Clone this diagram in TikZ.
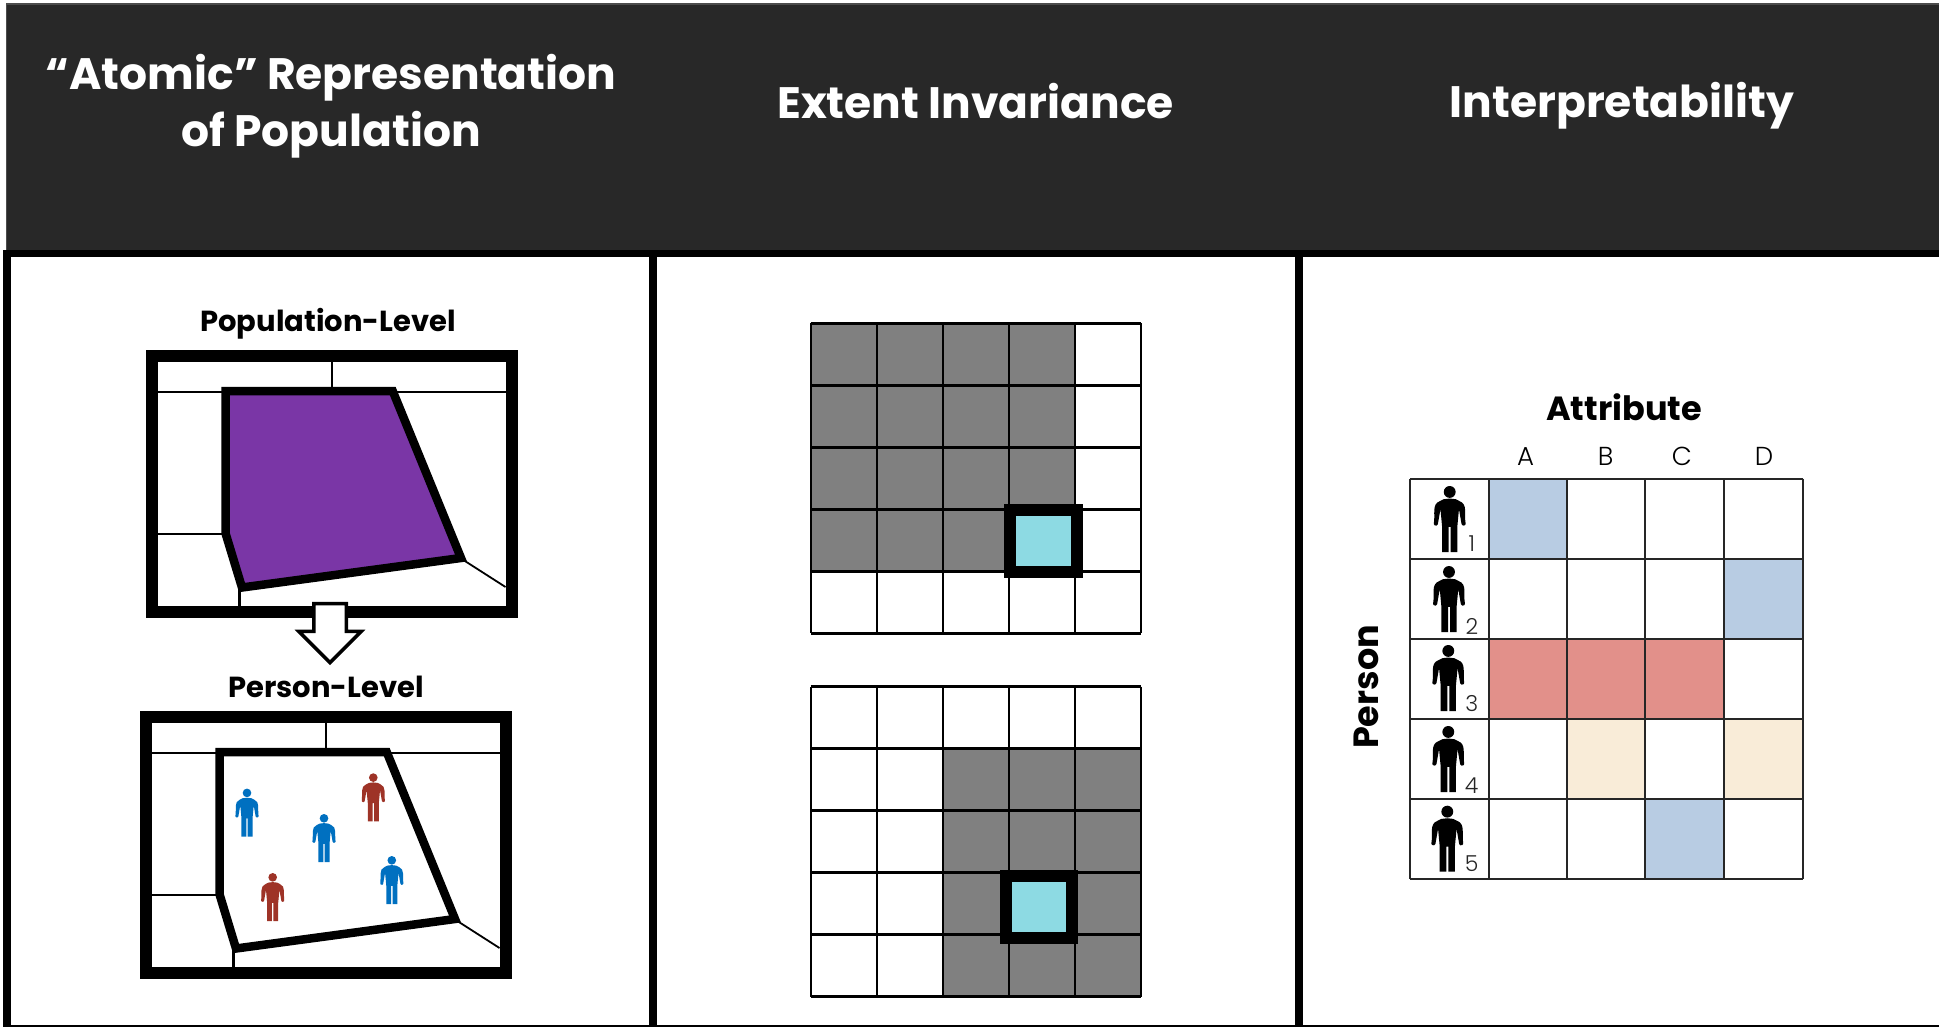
\documentclass[tikz,border=0pt]{standalone}
\usepackage{fontspec}
\setmainfont{Poppins}
\newfontfamily\lightfont{Poppins Light}
\usepackage{xcolor}
\usepackage{tikz}
\usetikzlibrary{shapes.arrows, positioning}
\definecolor{headerdark}{HTML}{282828}
\definecolor{regionpurple}{HTML}{7A36A6}
\definecolor{focuscyan}{HTML}{8DDAE3}
\definecolor{iconblue}{HTML}{0070C0}
\definecolor{iconred}{HTML}{9E3327}
\definecolor{cellblue}{HTML}{B8CCE3}
\definecolor{cellred}{HTML}{E2908A}
\definecolor{cellbeige}{HTML}{F9ECD8}
\tikzstyle{headertext} = [text=white, font=\fontsize{44}{56}\selectfont\bfseries, align=center, anchor=base, inner sep=0pt]
\tikzstyle{leveltext} = [font=\fontsize{29}{34}\selectfont\bfseries, anchor=base, inner sep=0pt]
\tikzstyle{axistext} = [font=\fontsize{33.5}{40}\selectfont\bfseries, anchor=base, inner sep=0pt]
\tikzstyle{sidetext} = [font=\fontsize{35}{40}\selectfont\bfseries, anchor=base, inner sep=0pt, rotate=90]
\tikzstyle{coltext} = [font=\fontsize{26}{30}\selectfont\lightfont, anchor=base, inner sep=0pt]
\tikzstyle{numtext} = [font=\fontsize{22}{26}\selectfont\lightfont, text=black!85, inner sep=0pt]
\tikzstyle{mapframe} = [rectangle, draw=black, line width=12pt, minimum width=360pt, minimum height=256.5pt]
\tikzstyle{blockarrow} = [single arrow, draw=black, fill=white, line width=3.5pt, shape border rotate=270, minimum height=59pt, minimum width=60pt, single arrow head extend=15pt, single arrow head indent=0pt, inner xsep=14.5pt, inner ysep=0pt]
\tikzstyle{focusbox} = [draw=black, line width=12pt, fill=focuscyan, miter limit=10]
\tikzset{
	personfig/.pic={
		\fill[#1] (0,9) circle (9);
		\fill[#1] (0,19) -- (9,20) -- (15,23) to[out=-20,in=100] (24,56) -- (24,58) to[out=-90,in=0] (20,60) -- (18,58) -- (14,35) -- (11.5,62) -- (11.5,100) -- (1.5,100) -- (1.5,62) -- (-1.5,62) -- (-1.5,100) -- (-11.5,100) -- (-11.5,62) -- (-14,35) -- (-18,58) -- (-20,60) to[out=180,in=-90] (-24,58) -- (-24,56) to[out=80,in=200] (-15,23) -- (-9,20) -- cycle;
	},
	regionmap/.pic={
		\draw[line width=2.2pt] (332,362) -- (332,391);
		\draw[line width=2.2pt] (157,392) -- (226,392);
		\draw[line width=2.2pt] (392,392) -- (505.5,392);
		\draw[line width=2.2pt] (157,534) -- (226,534);
		\draw[line width=2.2pt] (239.5,588) -- (239.5,606);
		\draw[line width=1.8pt] (461,558.5) -- (505.5,587);
		\draw[line width=8.5pt, line join=miter, fill=#1] (225.6,391) -- (392.7,391) -- (461,558) -- (242,587.5) -- (225.6,533.5) -- cycle;
	},
	extentgrid/.pic={
		\foreach \i in {0,...,5} {
			\draw[line width=2.4pt] (66.1*\i,0) -- (66.1*\i,310);
			\draw[line width=2.4pt] (0,62*\i) -- (330.5,62*\i);
		}
	}
}

\begin{document}
\begin{tikzpicture}[x=1pt, y=-1pt]
	\useasboundingbox (0,0) rectangle (1939,1027);
	\fill[white] (0,0) rectangle (1939,1027);

	% header band and panel rules
	\fill[headerdark] (6.5,4) rectangle (1939,251);
	\draw[black!70, line width=1.2pt] (6.5,251) -- (6.5,4) -- (1939,4);
	\fill[black] (3,250) rectangle (1939,257);
	\fill[black] (3,250) rectangle (11,1027);
	\fill[black] (649.3,250) rectangle (657.3,1027);
	\fill[black] (1294.8,250) rectangle (1302.8,1027);
	\fill[black] (3,1025) rectangle (1939,1027);

	\node (atomictitle) [headertext] at (331,90) {“Atomic” Representation};
	\node (atomicsub) [headertext] at (331,146.7) {of Population};
	\node (extenttitle) [headertext] at (975.5,119) {Extent Invariance};
	\node (interptitle) [headertext] at (1622,118) {Interpretability};

	% left panel
	\node (poptext) [leveltext] at (328,331.8) {Population-Level};
	\node (popframe) [mapframe] at (331.5,483.75) {};
	\pic at (0,0) {regionmap=regionpurple};
	\node (levelarrow) [blockarrow] at (330,625) {};

	\node (persontext) [leveltext] at (326,697) {Person-Level};
	\node (personframe) [mapframe] at (325.5,845) {};
	\pic at (-6,361) {regionmap=white};
	\pic[scale=.48] at (247,788.6) {personfig=iconblue};
	\pic[scale=.48] at (324,814) {personfig=iconblue};
	\pic[scale=.48] at (373.3,773.3) {personfig=iconred};
	\pic[scale=.48] at (391.8,856) {personfig=iconblue};
	\pic[scale=.48] at (272.7,873) {personfig=iconred};

	% middle panel, upper grid
	\fill[gray] (810.7,323.3) rectangle (1075,571.7);
	\fill[white] (1009,509.7) rectangle (1075,571.7);
	\fill[gray] (810.7,509.7) rectangle (1009,571.7);
	\pic at (810.7,323.3) {extentgrid};
	\draw[focusbox] (1009.7,509.7) rectangle (1077.3,572.2);

	% middle panel, lower grid
	\fill[gray] (943,748.7) rectangle (1141,997);
	\pic at (810.7,686.5) {extentgrid};
	\draw[focusbox] (1005.7,876) rectangle (1072.3,938);

	% right panel
	\node (attrtext) [axistext] at (1624,420) {Attribute};
	\node (persontitle) [sidetext] at (1378,687) {Person};
	\node (cola) [coltext] at (1525.7,465) {A};
	\node (colb) [coltext] at (1605.7,465) {B};
	\node (colc) [coltext] at (1682,465) {C};
	\node (cold) [coltext] at (1764,465) {D};

	\fill[cellblue] (1488.7,478.7) rectangle (1567.3,559);
	\fill[cellblue] (1724.3,559) rectangle (1803,638.7);
	\fill[cellred] (1488.7,638.7) rectangle (1724.3,719);
	\fill[cellbeige] (1567.3,719) rectangle (1645.3,799);
	\fill[cellbeige] (1724.3,719) rectangle (1803,799);
	\fill[cellblue] (1645.3,799) rectangle (1724.3,879);
	\foreach \cx in {1410,1488.7,1567.3,1645.3,1724.3,1803}
		\draw[line width=2.2pt, black!85] (\cx,478.7) -- (\cx,879);
	\foreach \cy in {478.7,559,638.7,719,799,879}
		\draw[line width=2.2pt, black!85] (1410,\cy) -- (1803,\cy);

	\pic[scale=.66] at (1449.7,486) {personfig=black};
	\pic[scale=.66] at (1449,566) {personfig=black};
	\pic[scale=.66] at (1448.3,645) {personfig=black};
	\pic[scale=.66] at (1448.3,726) {personfig=black};
	\pic[scale=.66] at (1447.3,805.7) {personfig=black};
	\node (numa) [numtext] at (1471.7,543.3) {1};
	\node (numb) [numtext] at (1472,626) {2};
	\node (numc) [numtext] at (1471.7,704) {3};
	\node (numd) [numtext] at (1471.7,786) {4};
	\node (nume) [numtext] at (1471.7,864) {5};
\end{tikzpicture}
\end{document}
